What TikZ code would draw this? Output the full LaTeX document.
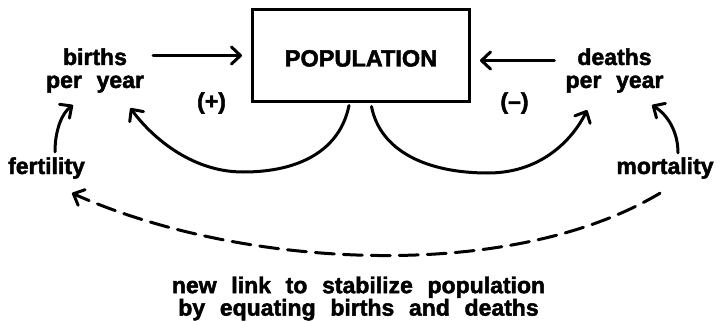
\documentclass[tikz,border=0pt]{standalone}
\usepackage{fontspec}
\setmainfont{Liberation Sans}[WordSpace=2.3,BoldFeatures={FakeBold=2}]
\usetikzlibrary{arrows.meta}
\begin{document}
\begin{tikzpicture}[x=1pt,y=-1pt,
  lab/.style={font=\bfseries\fontsize{23}{23}\selectfont, inner sep=0pt, align=center},
  note/.style={font=\bfseries\fontsize{23}{21}\selectfont, inner sep=0pt, align=center},
  conn/.style={line width=3pt, line cap=round, -{Straight Barb[length=9pt,width=17pt,line width=3pt,round]}},
  dashconn/.style={conn, dash pattern=on 19pt off 9pt},
  box/.style={draw, line width=3pt, minimum width=217pt, minimum height=91pt, inner sep=0pt,
    font=\bfseries\fontsize{23.5}{24}\selectfont, text height=22pt, text depth=0pt}]
\fill[white] (0,0) rectangle (722,321);
\useasboundingbox (0,0) rectangle (722,321);

\node[box] (pop) at (361,55.5) {POPULATION};
\node[lab] (births) at (95,70.5) {births\\per year};
\node[lab] (deaths) at (614.5,70.5) {deaths\\per year};
\node[lab, anchor=base] (fert) at (46.5,174) {fertility};
\node[lab, anchor=base] (mort) at (665,174) {mortality};
\node[lab, anchor=base] (plus) at (211.5,109) {(+)};
\node[lab, anchor=base] (minus) at (514.5,109) {(–)};
\node[note] (link) at (358.5,298.5) {new link to stabilize population\\by equating births and deaths};

\draw[conn, shorten <=9pt, shorten >=9pt] (births.east |- pop.west) -- (pop.west);
\draw[conn, shorten <=11pt, shorten >=9pt] ([yshift=-5pt]deaths.west |- pop.east) -- ([yshift=-5pt]pop.east);

\draw[conn] ([xshift=-12pt,yshift=-3pt]pop.south) .. controls (340,150) and (300,172) .. (243,172)
  .. controls (190,172) and (150,135) .. ([xshift=-13.7pt,yshift=-15.2pt]births.south east);
\draw[conn] ([xshift=10.5pt,yshift=-4pt]pop.south) .. controls (380,150) and (425,173) .. (488,173)
  .. controls (545,173) and (575,135) .. ([xshift=21.7pt,yshift=-17.2pt]deaths.south west);

\draw[conn] ([xshift=8.5pt,yshift=5.2pt]fert.north) .. controls (55,130) and (62,113) .. ([xshift=-22pt,yshift=-12.2pt]births.south);
\draw[conn] ([xshift=13pt,yshift=4.2pt]mort.north) .. controls (678,132) and (668,115) .. ([xshift=37.5pt,yshift=-12.2pt]deaths.south);

\draw[dashconn] ([xshift=-5pt,yshift=-14.2pt]mort.south) .. controls (510,283) and (242,269) .. ([xshift=25.5pt,yshift=-14.2pt]fert.south);
\end{tikzpicture}
\end{document}
